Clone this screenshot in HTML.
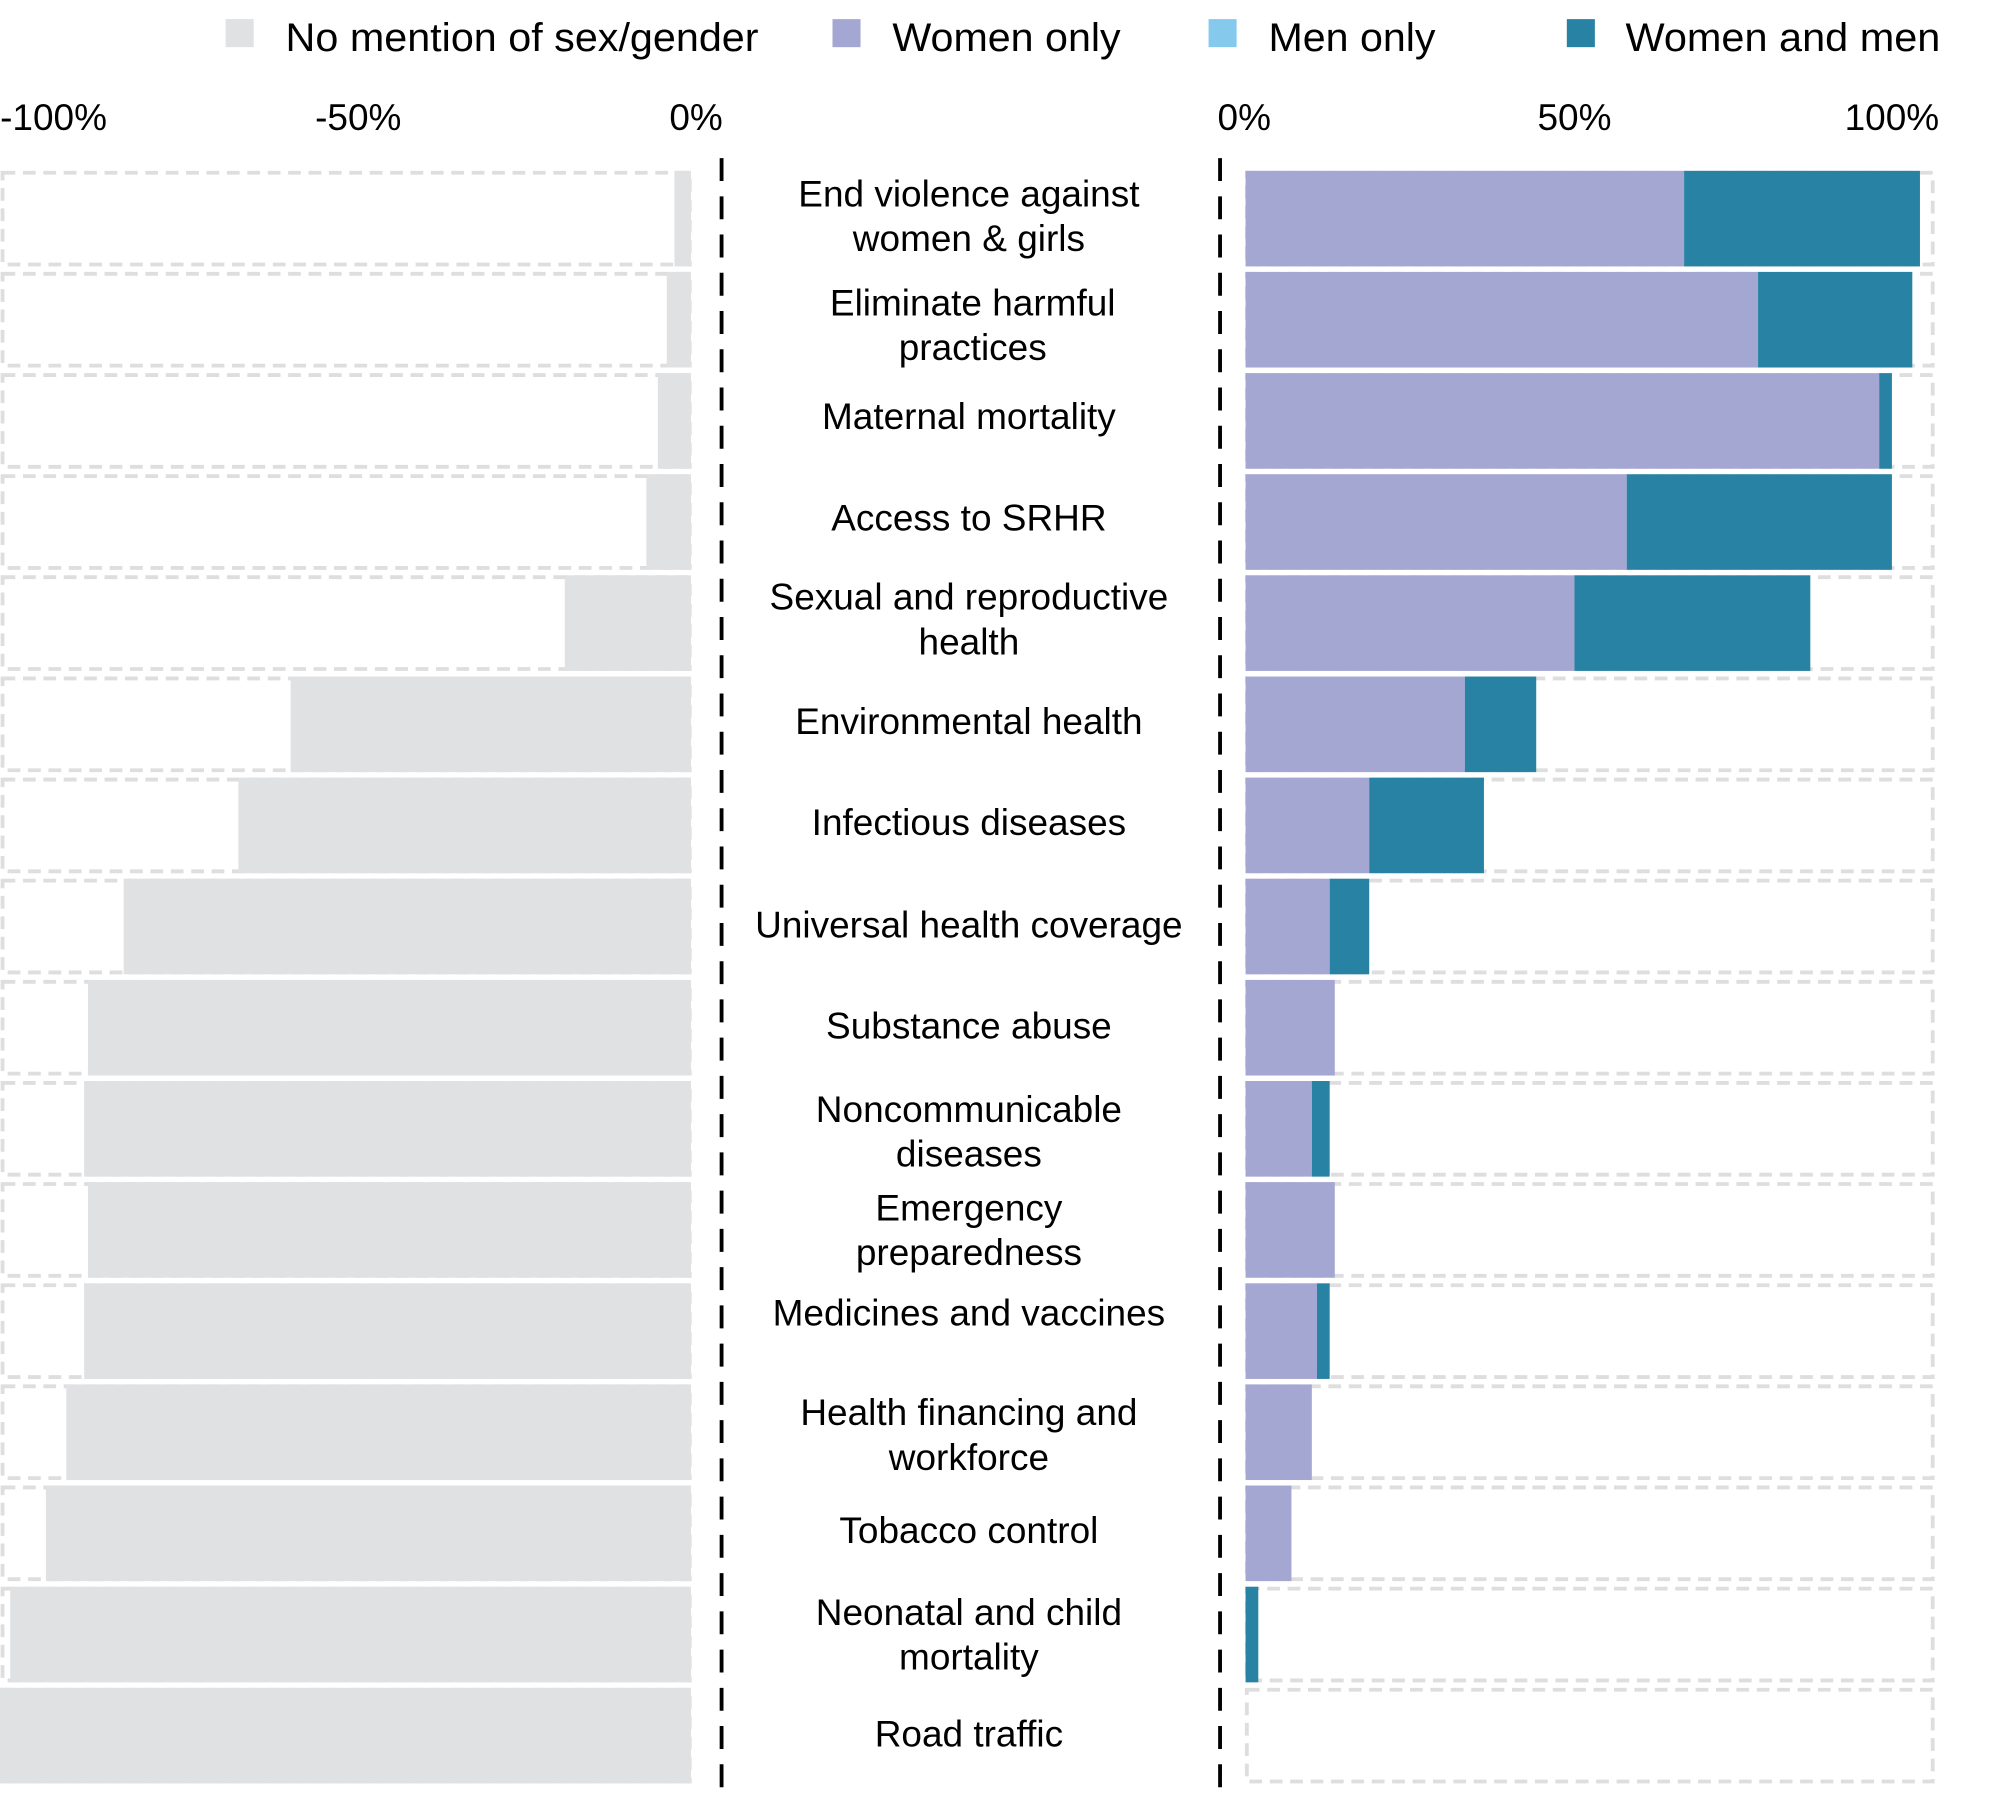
<!DOCTYPE html>
<html><head><meta charset="utf-8"><style>html,body{margin:0;padding:0;background:#fff}svg{display:block}</style></head>
<body>
<svg xmlns="http://www.w3.org/2000/svg" width="1999" height="1800" viewBox="0 0 1568 1412" preserveAspectRatio="none" font-family="'Liberation Sans', Arial, sans-serif">
<defs>
<g id="boxes">
<rect x="2" y="1.5" width="539" height="72" fill="none" stroke="#dedede" stroke-width="3" stroke-dasharray="10 6"/>
<rect x="978" y="1.5" width="538" height="72" fill="none" stroke="#dedede" stroke-width="3" stroke-dasharray="10 6"/>
</g>
</defs>
<rect width="1568" height="1412" fill="#fff"/>
<g font-size="31" fill="#000">
<rect x="177" y="15" width="22" height="22" fill="#e0e1e3"/><text x="224" y="40" textLength="371" lengthAdjust="spacingAndGlyphs">No mention of sex/gender</text>
<rect x="653" y="15" width="22" height="22" fill="#a5a7d3"/><text x="700" y="40" textLength="179" lengthAdjust="spacingAndGlyphs">Women only</text>
<rect x="948" y="15" width="22" height="22" fill="#85c9ec"/><text x="995" y="40" textLength="131" lengthAdjust="spacingAndGlyphs">Men only</text>
<rect x="1229" y="15" width="22" height="22" fill="#2882a3"/><text x="1275" y="40" textLength="247" lengthAdjust="spacingAndGlyphs">Women and men</text>
</g>
<g font-size="29" fill="#000" text-anchor="middle">
<text x="42" y="102">-100%</text><text x="281" y="102">-50%</text><text x="546" y="102">0%</text>
<text x="976" y="102">0%</text><text x="1235" y="102">50%</text><text x="1484" y="102">100%</text>
</g>
<g font-size="29" fill="#000" text-anchor="middle">
<g transform="translate(0,134)"><use href="#boxes"/><rect x="529" y="0" width="13" height="75" fill="#e0e1e3"/><rect x="977" y="0" width="344" height="75" fill="#a5a7d3"/><rect x="1321" y="0" width="185" height="75" fill="#2882a3"/><text x="760" y="28">End violence against</text><text x="760" y="63">women &amp; girls</text></g>
<g transform="translate(0,213.3)"><use href="#boxes"/><rect x="523" y="0" width="19" height="75" fill="#e0e1e3"/><rect x="977" y="0" width="402" height="75" fill="#a5a7d3"/><rect x="1379" y="0" width="121" height="75" fill="#2882a3"/><text x="763" y="34">Eliminate harmful</text><text x="763" y="69">practices</text></g>
<g transform="translate(0,292.7)"><use href="#boxes"/><rect x="516" y="0" width="26" height="75" fill="#e0e1e3"/><rect x="977" y="0" width="497" height="75" fill="#a5a7d3"/><rect x="1474" y="0" width="10" height="75" fill="#2882a3"/><text x="760" y="44">Maternal mortality</text></g>
<g transform="translate(0,372)"><use href="#boxes"/><rect x="507" y="0" width="35" height="75" fill="#e0e1e3"/><rect x="977" y="0" width="299" height="75" fill="#a5a7d3"/><rect x="1276" y="0" width="208" height="75" fill="#2882a3"/><text x="760" y="44">Access to SRHR</text></g>
<g transform="translate(0,451.3)"><use href="#boxes"/><rect x="443" y="0" width="99" height="75" fill="#e0e1e3"/><rect x="977" y="0" width="258" height="75" fill="#a5a7d3"/><rect x="1235" y="0" width="185" height="75" fill="#2882a3"/><text x="760" y="27">Sexual and reproductive</text><text x="760" y="62">health</text></g>
<g transform="translate(0,530.7)"><use href="#boxes"/><rect x="228" y="0" width="314" height="75" fill="#e0e1e3"/><rect x="977" y="0" width="172" height="75" fill="#a5a7d3"/><rect x="1149" y="0" width="56" height="75" fill="#2882a3"/><text x="760" y="45">Environmental health</text></g>
<g transform="translate(0,610)"><use href="#boxes"/><rect x="187" y="0" width="355" height="75" fill="#e0e1e3"/><rect x="977" y="0" width="97" height="75" fill="#a5a7d3"/><rect x="1074" y="0" width="90" height="75" fill="#2882a3"/><text x="760" y="45">Infectious diseases</text></g>
<g transform="translate(0,689.3)"><use href="#boxes"/><rect x="97" y="0" width="445" height="75" fill="#e0e1e3"/><rect x="977" y="0" width="66" height="75" fill="#a5a7d3"/><rect x="1043" y="0" width="31" height="75" fill="#2882a3"/><text x="760" y="46">Universal health coverage</text></g>
<g transform="translate(0,768.7)"><use href="#boxes"/><rect x="69" y="0" width="473" height="75" fill="#e0e1e3"/><rect x="977" y="0" width="70" height="75" fill="#a5a7d3"/><text x="760" y="46">Substance abuse</text></g>
<g transform="translate(0,848)"><use href="#boxes"/><rect x="66" y="0" width="476" height="75" fill="#e0e1e3"/><rect x="977" y="0" width="52" height="75" fill="#a5a7d3"/><rect x="1029" y="0" width="14" height="75" fill="#2882a3"/><text x="760" y="32">Noncommunicable</text><text x="760" y="67">diseases</text></g>
<g transform="translate(0,927.3)"><use href="#boxes"/><rect x="69" y="0" width="473" height="75" fill="#e0e1e3"/><rect x="977" y="0" width="70" height="75" fill="#a5a7d3"/><text x="760" y="30">Emergency</text><text x="760" y="65">preparedness</text></g>
<g transform="translate(0,1006.7)"><use href="#boxes"/><rect x="66" y="0" width="476" height="75" fill="#e0e1e3"/><rect x="977" y="0" width="56" height="75" fill="#a5a7d3"/><rect x="1033" y="0" width="10" height="75" fill="#2882a3"/><text x="760" y="33">Medicines and vaccines</text></g>
<g transform="translate(0,1086)"><use href="#boxes"/><rect x="52" y="0" width="490" height="75" fill="#e0e1e3"/><rect x="977" y="0" width="52" height="75" fill="#a5a7d3"/><text x="760" y="32">Health financing and</text><text x="760" y="67">workforce</text></g>
<g transform="translate(0,1165.3)"><use href="#boxes"/><rect x="36" y="0" width="506" height="75" fill="#e0e1e3"/><rect x="977" y="0" width="36" height="75" fill="#a5a7d3"/><text x="760" y="45">Tobacco control</text></g>
<g transform="translate(0,1244.7)"><use href="#boxes"/><rect x="8" y="0" width="534" height="75" fill="#e0e1e3"/><rect x="977" y="0" width="10" height="75" fill="#2882a3"/><text x="760" y="30">Neonatal and child</text><text x="760" y="65">mortality</text></g>
<g transform="translate(0,1324)"><use href="#boxes"/><rect x="0" y="0" width="542" height="75" fill="#e0e1e3"/><text x="760" y="46">Road traffic</text></g>
</g>
<line x1="566" y1="124" x2="566" y2="1412" stroke="#000" stroke-width="3" stroke-dasharray="18 12"/>
<line x1="957" y1="124" x2="957" y2="1412" stroke="#000" stroke-width="3" stroke-dasharray="18 12"/>
</svg>
</body></html>
